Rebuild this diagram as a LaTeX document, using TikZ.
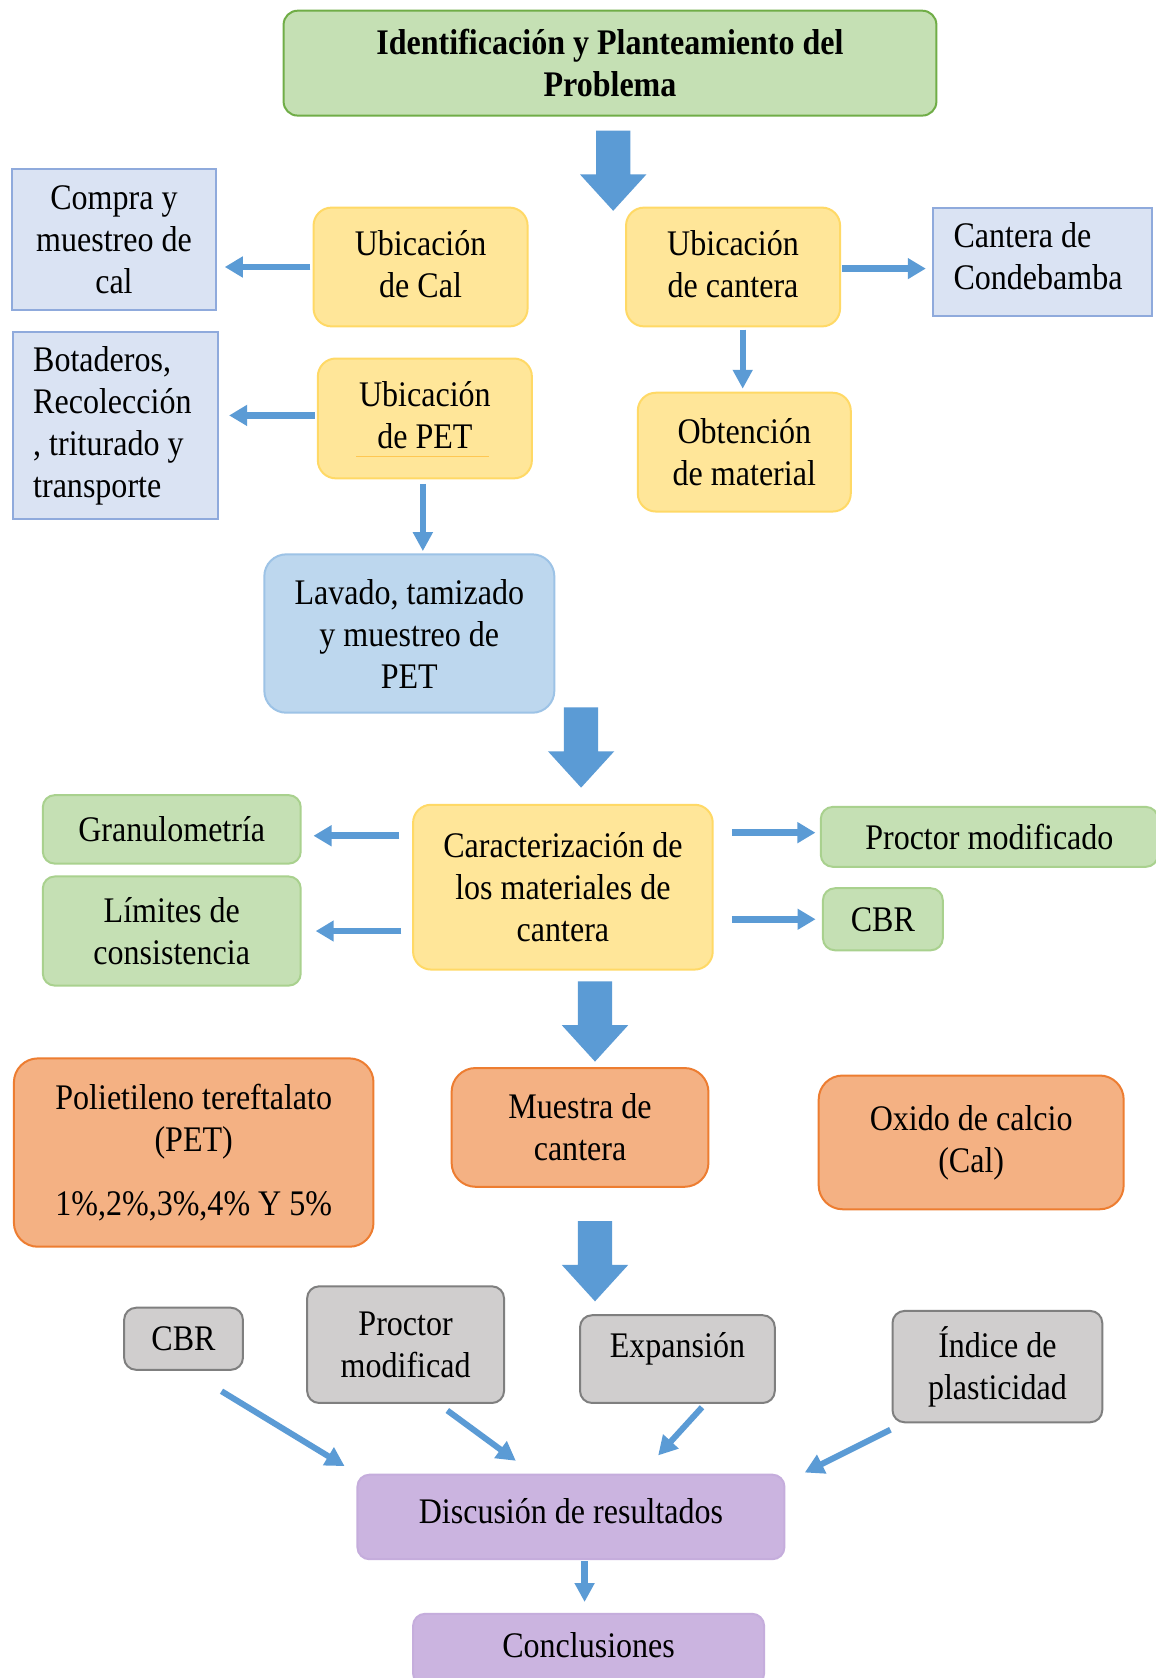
\documentclass[tikz,border=0pt]{standalone}
\usepackage{fontspec}
\setmainfont{Liberation Serif}[FakeStretch=0.89]
\usetikzlibrary{arrows.meta,calc,fit}
\definecolor{arrblue}{HTML}{5B9BD5}
\definecolor{gfill}{HTML}{C5E0B4}
\definecolor{gline}{HTML}{70AD47}
\definecolor{gline2}{HTML}{A9D18E}
\definecolor{bfill}{HTML}{DAE3F3}
\definecolor{bline}{HTML}{8FAADC}
\definecolor{yfill}{HTML}{FFE699}
\definecolor{yline}{HTML}{FFD966}
\definecolor{lbfill}{HTML}{BDD7EE}
\definecolor{lbline}{HTML}{9DC3E6}
\definecolor{ofill}{HTML}{F4B183}
\definecolor{oline}{HTML}{ED7D31}
\definecolor{grfill}{HTML}{D0CECE}
\definecolor{grline}{HTML}{7F7F7F}
\definecolor{pfill}{HTML}{CBB4E0}
\definecolor{pline}{HTML}{C5ADDC}
\newcommand\blockarrow[1]{\fill[arrblue] ($(#1)+(-16,0)$) -- ++(32,0) -- ++(0,41) -- ++(15,0) -- ($(#1)+(0,75)$) -- ($(#1)+(-31,41)$) -- ++(15,0) -- cycle;}
\begin{document}
\begin{tikzpicture}[x=0.5352pt,y=-0.5352pt,
  lbl/.style={inner sep=0pt, outer sep=0pt, align=center, font=\fontsize{18}{21}\selectfont},
  lblleft/.style={lbl, align=flush left},
  box/.style={inner sep=0pt, outer sep=0pt, line width=1pt},
  topbox/.style={box, fill=gfill, draw=gline, rounded corners=7pt},
  greenbox/.style={box, fill=gfill, draw=gline2, rounded corners=6pt},
  bluerect/.style={box, fill=bfill, draw=bline},
  ybox/.style={box, fill=yfill, draw=yline, rounded corners=9pt},
  lbbox/.style={box, fill=lbfill, draw=lbline, rounded corners=11pt},
  obox/.style={box, fill=ofill, draw=oline, rounded corners=12pt},
  gbox/.style={box, fill=grfill, draw=grline, rounded corners=6pt},
  pbox/.style={box, fill=pfill, draw=pline, rounded corners=6pt},
  arr/.style={draw=arrblue, line width=3.3pt, -{Triangle[width=10pt,length=9pt]}},
  thinarr/.style={draw=arrblue, line width=3.1pt, -{Triangle[width=9.5pt,length=9.5pt]}},
  diagarr/.style={draw=arrblue, line width=3pt, -{Triangle[width=10pt,length=9.5pt]}}
]
\fill[white] (0,0) rectangle (1080,1568);
\useasboundingbox (0,0) rectangle (1080,1568);

% top
\node[topbox, fit={(265,10)(875,108)}, label={[lbl]center:{\textbf{Identificación y Planteamiento del}\\\textbf{Problema}}}] (top) {};

% second level
\node[bluerect, fit={(11,158)(202,290)}, label={[lbl]center:{Compra y\\muestreo de\\cal}}] (compra) {};
\node[ybox, fit={(293,194)(493,305)}, label={[lbl, yshift=1.5pt]center:{Ubicación\\de Cal}}] (ucal) {};
\node[ybox, fit={(585,194)(785,305)}, label={[lbl, yshift=1.5pt]center:{Ubicación\\de cantera}}] (ucant) {};
\node[bluerect, fit={(872,194)(1076,295)}, label={[lblleft, text width=88.8pt, yshift=2.5pt]center:{Cantera de\\Condebamba}}] (cond) {};
\node[bluerect, fit={(12,310)(204,485)}, label={[lblleft, text width=82.4pt]center:{Botaderos,\\Recolección\\, triturado y\\transporte}}] (bot) {};
\node[ybox, fit={(297,335)(497,447)}, label={[lbl, yshift=1.5pt]center:{Ubicación\\de PET}}] (upet) {};
\draw[yline!80!orange, line width=0.5pt] (333,427) -- (457,427);
\node[ybox, fit={(596,367)(795,478)}, label={[lbl]center:{Obtención\\de material}}] (obt) {};
\node[lbbox, fit={(247,518)(518,666)}, label={[lbl]center:{Lavado, tamizado\\y muestreo de\\PET}}] (lav) {};

% characterization
\node[ybox, fit={(386,752)(666,906)}, label={[lbl]center:{Caracterización de\\los materiales de\\cantera}}] (car) {};
\node[greenbox, fit={(40,743)(281,807)}, label={[lbl]center:{Granulometría}}] (gran) {};
\node[greenbox, fit={(40,819)(281,921)}, label={[lbl]center:{Límites de\\consistencia}}] (lim) {};
\node[greenbox, fit={(767,754)(1082,810)}, label={[lbl]center:{Proctor modificado}}] (proc) {};
\node[greenbox, fit={(769,830)(881,888)}, label={[lbl]center:{CBR}}] (cbr) {};

% orange
\node[obox, fit={(13,989)(349,1165)}, label={[lbl]center:{Polietileno tereftalato\\(PET)\\[11pt]1\%,2\%,3\%,4\% Y 5\%}}] (pet) {};
\node[obox, fit={(422,998)(662,1109)}, label={[lbl]center:{Muestra de\\cantera}}] (mue) {};
\node[obox, fit={(765,1005)(1050,1130)}, label={[lbl]center:{Oxido de calcio\\(Cal)}}] (oxi) {};

% gray
\node[gbox, fit={(116,1222)(227,1280)}, label={[lbl]center:{CBR}}] (cbrg) {};
\node[gbox, fit={(287,1202)(471,1311)}, label={[lbl]center:{Proctor\\modificad}}] (pmg) {};
\node[gbox, fit={(542,1229)(724,1311)}, label={[lbl, yshift=5pt]center:{Expansión}}] (exp) {};
\node[gbox, fit={(834,1225)(1030,1329)}, label={[lbl]center:{Índice de\\plasticidad}}] (ind) {};

% purple
\node[pbox, fit={(334,1378)(733,1457)}, label={[lbl, yshift=3pt]center:{Discusión de resultados}}] (disc) {};
\node[pbox, fit={(386,1508)(714,1575)}, label={[lbl, yshift=2pt]center:{Conclusiones}}] (concl) {};

% block arrows
\coordinate (ba1) at ($(top.south)+(3,14)$);
\coordinate (ba2) at ($(car.north)+(17,-91)$);
\coordinate (ba3) at ($(car.south)+(30,11)$);
\coordinate (ba4) at ($(mue.south)+(14,32)$);
\blockarrow{ba1}
\blockarrow{ba2}
\blockarrow{ba3}
\blockarrow{ba4}

% small arrows
\draw[arr, shorten <=1.6pt, shorten >=4.3pt] (ucal.west) -- (ucal.west -| compra.east);
\draw[arr, shorten <=1pt, shorten >=3.7pt] ([yshift=-0.8pt]ucant.east) -- ([yshift=-0.8pt]ucant.east -| cond.west);
\draw[arr, shorten <=1.6pt, shorten >=5.4pt] ([yshift=1.5pt]upet.west) -- ([yshift=1.5pt]upet.west -| bot.east);
\draw[thinarr, shorten <=1.6pt, shorten >=2pt] ([xshift=-0.8pt]obt.north |- ucant.south) -- ([xshift=-0.8pt]obt.north);
\draw[thinarr, shorten <=2.7pt, shorten >=1.6pt] ([xshift=-1pt]upet.south) -- ([xshift=-1pt]upet.south |- lav.north);

\draw[arr, shorten <=7pt, shorten >=6.4pt] ([yshift=-3.2pt]gran.east -| car.west) -- ([yshift=-3.2pt]gran.east);
\draw[arr, shorten <=5.9pt, shorten >=7.5pt] (lim.east -| car.west) -- (lim.east);
\draw[arr, shorten <=9.6pt, shorten >=2.7pt] ([yshift=2.1pt]proc.west -| car.east) -- ([yshift=2.1pt]proc.west);
\draw[arr, shorten <=9.6pt, shorten >=3.7pt] (cbr.west -| car.east) -- (cbr.west);

% diagonal arrows into discussion
\draw[diagarr] ($(cbrg.south)+(35.5,20)$) -- ($(disc.north west)+(-12,-8)$);
\draw[diagarr] ($(pmg.south)+(39,7)$) -- ($(disc.north west)+(148,-13)$);
\draw[diagarr] ($(exp.south)+(23,4)$) -- ($(disc.north)+(81.5,-18)$);
\draw[diagarr] ($(ind.south west)+(-2,7)$) -- ($(disc.north east)+(19,-2)$);

\draw[thinarr, shorten <=1pt, shorten >=5.9pt] ([xshift=-2pt]concl.north |- disc.south) -- ([xshift=-2pt]concl.north);
\end{tikzpicture}
\end{document}
